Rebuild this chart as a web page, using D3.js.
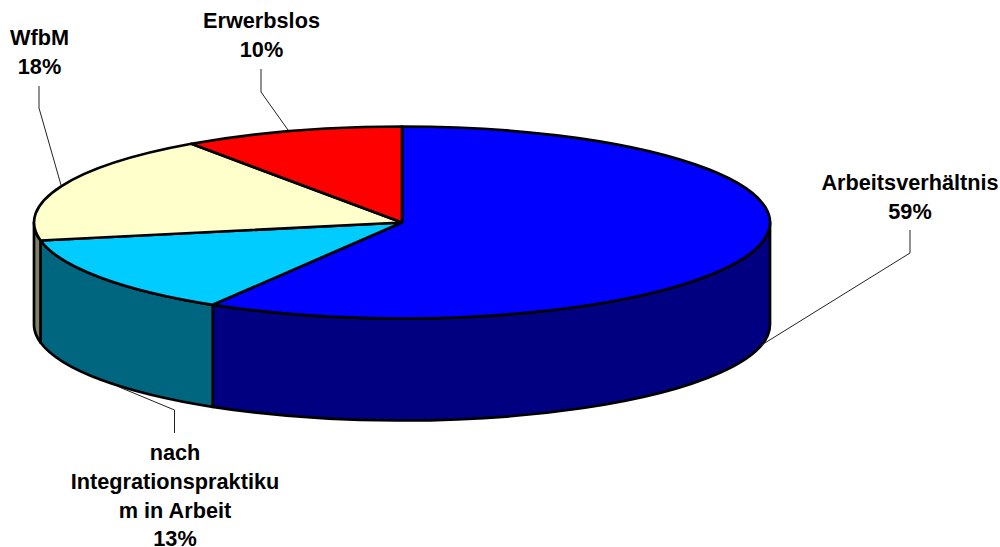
<!DOCTYPE html>
<html><head><meta charset="utf-8">
<script src="https://cdn.jsdelivr.net/npm/d3@7"></script>
<style>html,body{margin:0;padding:0;background:#fff}svg{display:block}</style>
</head><body><div id="c"></div>
<script>
const categories = ["Arbeitsverhältnis","nach Integrationspraktikum in Arbeit","WfbM","Erwerbslos"];
const values = [58.6,13.4,18.3,9.7];
const topColors = ["#0000ff","#00ccff","#ffffcc","#ff0000"];
const sideColors = ["#000080","#006680","#808066","#800000"];
const labelLines = [["Arbeitsverhältnis","59%"],["nach","Integrationspraktiku","m in Arbeit","13%"],["WfbM","18%"],["Erwerbslos","10%"]];
const labelAnchors = [[910,190],[175,460],[39.5,45],[261.5,28]];
const leaders = [[[910,230],[910,253],[760,346]],[[174.5,433],[174.5,410],[119,387]],[[39,86],[39,108],[61,185]],[[261,69],[261,92],[288,130]]];

const W=1000,H=547,cx=402,cy=222.5,rx=368,ry=96,depth=102;
const svg=d3.select("#c").append("svg").attr("width",W).attr("height",H).attr("viewBox",[0,0,W,H]);
const pie=d3.pie().sort(null).value(d=>d)(values);
const pt=(a,dy=0)=>[cx+rx*Math.sin(a),cy-ry*Math.cos(a)+dy];
const arcTo=(a,dy,sweep)=>{const p=pt(a,dy);return `A${rx},${ry} 0 0 ${sweep} ${p[0]},${p[1]}`;};
const front=[Math.PI/2,Math.PI*1.5];

pie.forEach((s,i)=>{
  const a0=Math.max(s.startAngle,front[0]),a1=Math.min(s.endAngle,front[1]);
  if(a1<=a0) return;
  const p0=pt(a0),p1b=pt(a1,depth);
  const steps=d3.range(0,1.001,0.25).map(t=>a0+(a1-a0)*t);
  let d=`M${p0}`;
  steps.slice(1).forEach(a=>d+=arcTo(a,0,1));
  d+=`L${p1b}`;
  steps.slice(0,-1).reverse().forEach(a=>d+=arcTo(a,depth,0));
  d+="Z";
  svg.append("path").attr("d",d).attr("fill",sideColors[i]).attr("stroke","#000").attr("stroke-width",2.7).attr("stroke-linejoin","round");
});
pie.forEach((s,i)=>{
  const large=(s.endAngle-s.startAngle)>Math.PI?1:0;
  const p0=pt(s.startAngle),p1=pt(s.endAngle);
  const d=`M${cx},${cy}L${p0}A${rx},${ry} 0 ${large} 1 ${p1}Z`;
  svg.append("path").attr("d",d).attr("fill",topColors[i]).attr("stroke","#000").attr("stroke-width",2.7).attr("stroke-linejoin","round");
});
const line=d3.line();
leaders.forEach(l=>svg.append("path").attr("d",line(l)).attr("fill","none").attr("stroke","#222").attr("stroke-width",1));
labelLines.forEach((ls,i)=>{
  const t=svg.append("text").attr("text-anchor","middle").attr("font-family","Liberation Sans, Arial, sans-serif")
    .attr("font-weight","bold").attr("font-size",21.7).attr("fill","#000");
  ls.forEach((s,j)=>t.append("tspan").attr("x",labelAnchors[i][0]).attr("y",labelAnchors[i][1]+j*28.8).text(s));
});
</script></body></html>
